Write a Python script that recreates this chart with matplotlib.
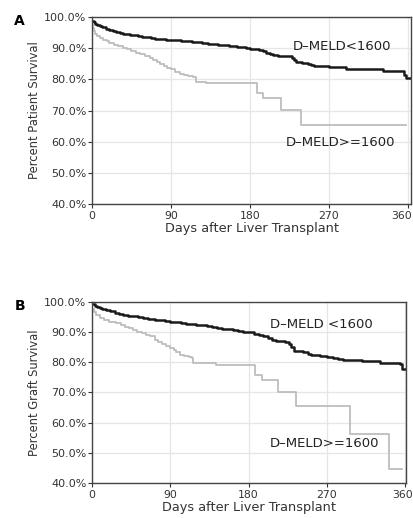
import matplotlib.pyplot as plt
from matplotlib.transforms import ScaledTranslation

# Kaplan-Meier estimates, days after transplant vs. percent survival
days_pt_low = [0, 2, 4, 6, 9, 12, 16, 20, 24, 28, 32, 36, 40, 44, 47, 52, 57, 62, 67, 72, 78, 84, 90,
               96, 102, 108, 114, 120, 126, 132, 138, 144, 150, 156, 161, 166, 171, 176, 180, 185, 190,
               195, 199, 203, 207, 212, 220, 228, 231, 233, 240, 246, 250, 253, 270, 285, 290, 310, 325,
               332, 350, 356, 358, 364]
surv_pt_low = [98.7, 98.3, 97.9, 97.6, 97.1, 96.7, 96.3, 95.9, 95.5, 95.2, 95.0, 94.7, 94.5, 94.3, 94.1,
               93.9, 93.7, 93.5, 93.3, 93.1, 92.9, 92.7, 92.6, 92.5, 92.4, 92.2, 92.0, 91.9, 91.7, 91.5,
               91.3, 91.1, 91.0, 90.8, 90.7, 90.5, 90.3, 90.1, 89.9, 89.7, 89.4, 89.0, 88.6, 88.2, 87.7,
               87.5, 87.4, 87.0, 86.3, 85.5, 85.4, 85.0, 84.5, 84.2, 84.1, 84.0, 83.4, 83.3, 83.2, 82.7,
               82.6, 81.5, 80.6, 80.6]
days_pt_high = [0, 1, 2, 4, 6, 9, 13, 17, 20, 25, 30, 35, 40, 45, 50, 55, 60, 66, 70, 74, 78, 82, 86, 90,
                95, 100, 105, 110, 115, 119, 130, 146, 188, 195, 216, 238, 358]
surv_pt_high = [97.6, 96.5, 95.5, 94.5, 93.9, 93.2, 92.6, 92.2, 91.8, 91.2, 90.7, 90.2, 89.7, 89.1, 88.6,
                88.1, 87.6, 87.0, 86.3, 85.6, 84.8, 84.2, 83.7, 83.2, 82.4, 81.6, 81.3, 81.0, 80.8, 79.1,
                79.0, 78.7, 75.5, 73.9, 70.3, 65.5, 65.5]

days_gr_low = [0, 3, 6, 9, 12, 16, 21, 26, 31, 36, 41, 47, 53, 59, 65, 72, 78, 84, 90, 96, 102, 108, 114,
               120, 126, 132, 138, 144, 150, 156, 162, 168, 174, 180, 186, 192, 197, 202, 207, 212, 222,
               226, 229, 232, 242, 248, 252, 262, 270, 277, 283, 289, 310, 325, 331, 354, 356, 360]
surv_gr_low = [99.3, 98.8, 98.3, 97.9, 97.6, 97.3, 96.9, 96.5, 96.1, 95.8, 95.5, 95.2, 94.9, 94.6, 94.4,
               94.1, 93.9, 93.7, 93.5, 93.2, 93.0, 92.8, 92.7, 92.5, 92.2, 91.9, 91.6, 91.4, 91.2, 91.0,
               90.8, 90.5, 90.2, 89.9, 89.5, 89.1, 88.6, 88.0, 87.5, 86.9, 86.6, 86.0, 85.1, 83.6, 83.4,
               82.9, 82.5, 82.1, 81.7, 81.3, 81.0, 80.6, 80.5, 80.3, 79.6, 79.3, 77.6, 77.6]
days_gr_high = [0, 2, 5, 9, 14, 20, 28, 33, 38, 43, 47, 52, 57, 62, 67, 72, 76, 80, 85, 90, 94, 97, 101,
                106, 111, 115, 116, 130, 143, 187, 195, 214, 235, 297, 341, 356]
surv_gr_high = [97.7, 96.8, 95.8, 94.7, 94.0, 93.5, 93.0, 92.3, 91.8, 91.3, 90.8, 90.2, 89.7, 89.2, 88.6,
                87.5, 86.8, 86.2, 85.4, 84.8, 84.0, 83.3, 82.5, 82.0, 81.6, 81.4, 79.8, 79.6, 79.2, 75.9,
                74.0, 70.0, 65.6, 56.2, 44.7, 44.7]

yticks = [40, 50, 60, 70, 80, 90, 100]
xticks = [0, 90, 180, 270, 360]

fig = plt.figure(figsize=(4.14, 5.18), dpi=100)
ax_a = fig.add_axes([0.222, 0.606, 0.771, 0.361])
ax_b = fig.add_axes([0.222, 0.068, 0.759, 0.349])

panels = [
    (ax_a, 'A', 'Percent Patient Survival', 364,
     days_pt_low, surv_pt_low, days_pt_high, surv_pt_high,
     ('D\u2013MELD<1600', 285, 90.7), ('D\u2013MELD>=1600', 283, 59.9), -0.06),
    (ax_b, 'B', 'Percent Graft Survival', 361,
     days_gr_low, surv_gr_low, days_gr_high, surv_gr_high,
     ('D\u2013MELD <1600', 264, 92.5), ('D\u2013MELD>=1600', 267, 53.0), -0.03),
]

for ax, letter, ylab, xmax, dl, sl, dh, sh, lab_lo, lab_hi, nudge in panels:
    ax.step(dh, sh, where='post', color='#bdbdbd', lw=1.3)
    ax.step(dl, sl, where='post', color='#1a1a1a', lw=1.8)
    ax.set_xlim(0, xmax)
    ax.set_ylim(40, 100)
    ax.set_yticks(yticks)
    ax.set_yticklabels([f'{v:.1f}%' for v in yticks])
    ax.set_xticks(xticks)
    ax.grid(True, color='#e6e6e6', lw=0.9)
    ax.set_axisbelow(True)
    ax.tick_params(labelsize=8, colors='#333333', length=3, width=0.8, pad=1)
    ax.tick_params(axis='x', pad=2, labelsize=7.8)
    # keep the last day label inside the figure edge
    last = ax.get_xticklabels()[-1]
    last.set_transform(last.get_transform() + ScaledTranslation(nudge, 0, fig.dpi_scale_trans))
    for s in ax.spines.values():
        s.set_color('#444444')
        s.set_linewidth(1.0)
    ax.set_ylabel(ylab, fontsize=8.3, color='#333333', labelpad=2)
    ax.set_xlabel('Days after Liver Transplant', fontsize=9.3, color='#333333', labelpad=1)
    for txt, x, y in (lab_lo, lab_hi):
        ax.text(x, y, txt, fontsize=9.5, color='#222222', ha='center', va='center')
    ax.text(-0.245, 0.98, letter, transform=ax.transAxes, fontsize=10,
            fontweight='bold', ha='left', va='center')

fig.savefig('out.png', dpi=100)
